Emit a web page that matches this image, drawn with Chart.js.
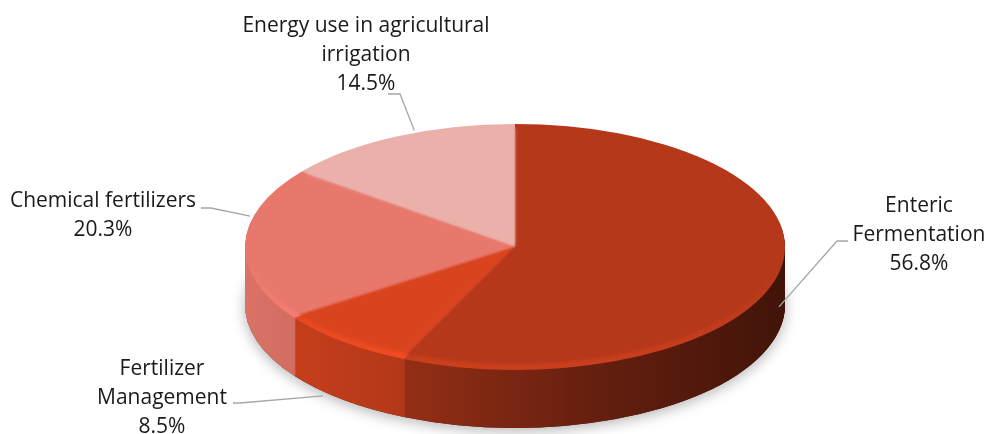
<!DOCTYPE html>
<html lang="en">
<head>
  <meta charset="UTF-8">
  <title>Agricultural Emissions</title>
  <script src="https://cdn.jsdelivr.net/npm/chart.js"></script>
  <style>
    body {
      margin: 0;
      padding: 0;
      background: #fff;
    }
    .wrap {
      width: 987px;
      height: 434px;
    }
  </style>
</head>
<body>
<div class="wrap">
  <canvas id="pieChart" width="987" height="434"></canvas>
</div>

<script>
  // data, clockwise from 12 o'clock
  var categories = ['Enteric Fermentation', 'Fertilizer Management', 'Chemical fertilizers', 'Energy use in agricultural irrigation'];
  var shares = [56.8, 8.5, 20.3, 14.5];
  var labelLines = [
    ['Enteric', 'Fermentation'],
    ['Fertilizer', 'Management'],
    ['Chemical fertilizers'],
    ['Energy use in agricultural', 'irrigation']
  ];

  var sliceColors = ['#b5381a', '#d9441f', '#e7786b', '#ebb0aa'];

  // ellipse the flat pie gets squashed into
  var PIE = { cx: 515, cy: 247, rx: 270, ry: 123, depth: 58 };

  // label text centre / first line middle, leader elbow, and nudge of the pie-side end
  var labelLayout = [
    { tx: 919, ty: 206, ex: 837, ey: 241, sx: 848, dx: 0,   dy: 34 },
    { tx: 162, ty: 369, ex: 240, ey: 403, sx: 233, dx: -20, dy: 54 },
    { tx: 103, ty: 201, ex: 211, ey: 208, sx: 201, dx: 5,   dy: -28 },
    { tx: 366, ty: 26,  ex: 400, ey: 94,  sx: 388, dx: 18,  dy: -6 }
  ];

  function shade(hex, f) {
    var r = parseInt(hex.substr(1, 2), 16), g = parseInt(hex.substr(3, 2), 16), b = parseInt(hex.substr(5, 2), 16);
    function c(v) { return Math.min(255, Math.round(v * f)); }
    return 'rgb(' + c(r) + ',' + c(g) + ',' + c(b) + ')';
  }

  function withColor(arc, color) {
    var a = Object.create(arc);
    a.options = Object.assign({}, arc.options, { backgroundColor: color, borderWidth: 0 });
    return a;
  }

  var pie3d = {
    id: 'pie3d',
    beforeDatasetsDraw: function (chart) {
      var ctx = chart.ctx;
      var arcs = chart.getDatasetMeta(0).data;
      var first = arcs[0];
      var R = first.outerRadius, ax = first.x, ay = first.y;

      function place(dy, shrinkX, shrinkY) {
        ctx.translate(PIE.cx, PIE.cy + dy);
        ctx.scale((PIE.rx - (shrinkX || 0)) / R, (PIE.ry - (shrinkY || 0)) / R);
        ctx.translate(-ax, -ay);
      }

      // soft shadow under the disc
      ctx.save();
      place(PIE.depth);
      ctx.shadowColor = 'rgba(0,0,0,0.3)';
      ctx.shadowBlur = 14;
      ctx.shadowOffsetY = 3;
      arcs.forEach(function (arc, i) {
        withColor(arc, shade(sliceColors[i], 0.4)).draw(ctx);
      });
      ctx.restore();

      // side wall, stacked layers
      for (var d = PIE.depth; d > 0; d--) {
        ctx.save();
        place(d);
        arcs.forEach(function (arc, i) {
          var g = ctx.createLinearGradient(ax - R, 0, ax + R, 0);
          g.addColorStop(0, shade(sliceColors[i], 0.95));
          g.addColorStop(0.3, shade(sliceColors[i], 0.82));
          g.addColorStop(0.65, shade(sliceColors[i], 0.56));
          g.addColorStop(1, shade(sliceColors[i], 0.36));
          withColor(arc, g).draw(ctx);
        });
        ctx.restore();
      }

      // bevel rim: lighter towards the front
      ctx.save();
      place(0);
      arcs.forEach(function (arc, i) {
        var g = ctx.createLinearGradient(0, ay - R, 0, ay + R);
        g.addColorStop(0, sliceColors[i]);
        g.addColorStop(0.55, sliceColors[i]);
        g.addColorStop(1, shade(sliceColors[i], 1.12));
        withColor(arc, g).draw(ctx);
      });
      ctx.restore();

      // top face, softened so the rim blends in
      ctx.save();
      ctx.filter = 'blur(1.5px)';
      place(-1, 5, 5);
      arcs.forEach(function (arc, i) {
        withColor(arc, sliceColors[i]).draw(ctx);
      });
      ctx.restore();

      return false;
    },
    afterDraw: function (chart) {
      var ctx = chart.ctx;
      var arcs = chart.getDatasetMeta(0).data;
      ctx.save();
      ctx.font = '21px "Open Sans"';
      ctx.textAlign = 'center';
      ctx.textBaseline = 'middle';
      arcs.forEach(function (arc, i) {
        var lay = labelLayout[i];
        var mid = (arc.startAngle + arc.endAngle) / 2;
        var px = PIE.cx + PIE.rx * Math.cos(mid) + lay.dx;
        var py = PIE.cy + PIE.ry * Math.sin(mid) + lay.dy;

        ctx.strokeStyle = '#a6a6a6';
        ctx.lineWidth = 1.3;
        ctx.beginPath();
        ctx.moveTo(lay.sx, lay.ey);
        ctx.lineTo(lay.ex, lay.ey);
        ctx.lineTo(px, py);
        ctx.stroke();

        ctx.fillStyle = '#1a1a1a';
        var lines = labelLines[i].concat([shares[i].toFixed(1) + '%']);
        lines.forEach(function (t, k) {
          ctx.fillText(t, lay.tx, lay.ty + k * 29);
        });
      });
      ctx.restore();
    }
  };

  var ctx = document.getElementById('pieChart').getContext('2d');
  var pieChart = new Chart(ctx, {
    type: 'pie',
    data: {
      labels: categories,
      datasets: [{
        data: shares,
        backgroundColor: sliceColors,
        borderWidth: 0
      }]
    },
    options: {
      responsive: false,
      animation: false,
      plugins: {
        legend: { display: false },
        tooltip: { enabled: false }
      }
    },
    plugins: [pie3d]
  });
</script>
</body>
</html>
